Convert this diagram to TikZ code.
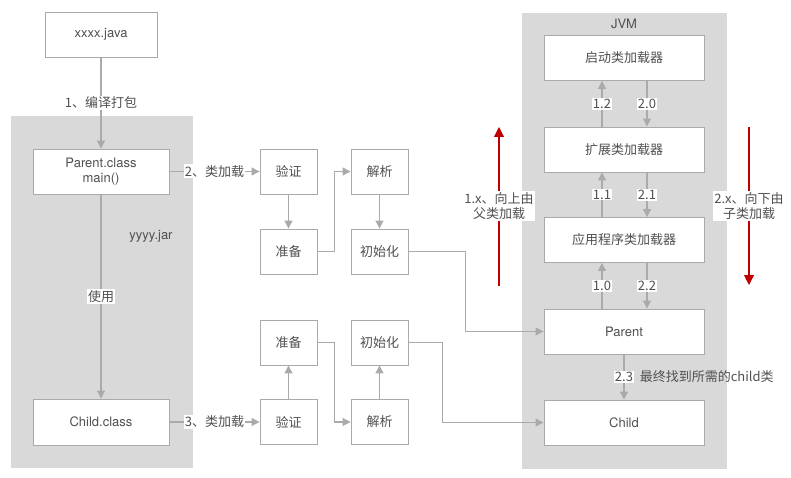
\documentclass[tikz,border=0pt]{standalone}
\usepackage{fontspec}
\setmainfont{TeX Gyre Heros}
\newfontfamily\cjk{Noto Sans CJK SC}
\usetikzlibrary{positioning,arrows.meta}

\definecolor{linegray}{RGB}{170,170,170}
\definecolor{areagray}{RGB}{217,217,217}
\definecolor{textgray}{RGB}{80,80,80}
\definecolor{loadred}{RGB}{192,0,0}

\tikzset{
  every box/.style={draw=linegray, line width=0.9pt, fill=white, text=textgray,
    inner sep=0pt, align=center},
  phase box/.style={minimum width=57, minimum height=45},
  loader box/.style={minimum width=160, minimum height=45},
  lat/.style={font=\fontsize{13}{15}\selectfont, text=textgray},
  han/.style={font=\cjk\fontsize{13}{15}\selectfont, text=textgray},
  tag/.style={fill=white, inner sep=1pt},
  flow/.style={draw=linegray, line width=1.1pt},
  red arrow/.style={draw=loadred, line width=1.1pt, -{Triangle[length=10pt,width=10pt]}}
}

\begin{document}
\begin{tikzpicture}[x=1pt, y=-1pt, >={Triangle[length=8pt,width=8pt]}]
\useasboundingbox (0,0) rectangle (791,478);

% grey areas
\fill[areagray] (11,116) rectangle (193,468);
\fill[areagray] (522,13) rectangle (727,469);
\node[lat] (jar-label) at (151,236) {yyyy.jar};
\node[lat] (jvm-label) at (624,24) {JVM};

% source side
\node[every box, lat, minimum width=112, minimum height=45] (java) at (101,34.5) {xxxx.java};
\node[every box, lat, minimum width=136, minimum height=45] (parent-class) at (101,171.5) {Parent.class\\main()};
\node[every box, lat, minimum width=136, minimum height=46] (child-class) at (101,422) {Child.class};

% linking phases, upper and lower row
\foreach \n/\t/\x/\y in {verify-1/验证/288.5/171.5, prepare-1/准备/288.5/251.5,
    resolve-1/解析/379.5/171.5, init-1/初始化/379.5/251.5,
    prepare-2/准备/288.5/342.5, init-2/初始化/379.5/342.5,
    verify-2/验证/288.5/422, resolve-2/解析/379.5/422}
  \node[every box, phase box, han] (\n) at (\x,\y) {\t};

% jvm loaders
\foreach \n/\t/\y in {boot/启动类加载器/58, ext/扩展类加载器/149.5, app/应用程序类加载器/240}
  \node[every box, loader box, han] (\n) at (624,\y) {\t};
\node[every box, loader box, lat] (jvm-parent) at (624,331.5) {Parent};
\node[every box, loader box, lat] (jvm-child) at (624,422.5) {Child};

\draw[flow, ->] (java) -- (parent-class) node[midway, tag, han] {1、编译打包};
\draw[flow, ->] (parent-class) -- (child-class) node[midway, tag, han] {使用};
\draw[flow, ->] (parent-class) -- (verify-1) node[midway, tag, han] {2、类加载};
\draw[flow, ->] (child-class) -- (verify-2) node[midway, tag, han] {3、类加载};

\draw[flow, ->] (verify-1) -- (prepare-1);
\draw[flow, ->] (prepare-1.east) -- ++(17,0) |- (resolve-1.west);
\draw[flow, ->] (resolve-1) -- (init-1);
\draw[flow, ->] (init-1.east) -- ++(57,0) |- (jvm-parent.west);

\draw[flow, ->] (verify-2) -- (prepare-2);
\draw[flow, ->] (prepare-2.east) -- ++(17,0) |- (resolve-2.west);
\draw[flow, ->] (resolve-2) -- (init-2);
\draw[flow, ->] (init-2.east) -- ++(34,0) |- (jvm-child.west);

% delegation inside the jvm
\foreach \lo/\hi/\u/\d in {ext/boot/1.2/2.0, app/ext/1.1/2.1, jvm-parent/app/1.0/2.2} {
  \draw[flow, ->] ([xshift=-22pt]\lo.north) -- ([xshift=-22pt]\hi.south)
    node[midway, tag, han] {\u};
  \draw[flow, ->] ([xshift=23pt]\hi.south) -- ([xshift=23pt]\lo.north)
    node[midway, tag, han] {\d};
}
\draw[flow, ->] (jvm-parent) -- (jvm-child) node[midway, tag, han] (found-step) {2.3};
\node[han, inner sep=1pt, right=4pt of found-step] (found-text) {最终找到所需的child类};

% direction of loading
\coordinate (up-from) at (499,286);
\coordinate (up-to) at (499,127);
\coordinate (down-from) at (749,127);
\coordinate (down-to) at (749,285);
\draw[red arrow] (up-from) -- (up-to);
\draw[red arrow] (down-from) -- (down-to);
\node[tag, han, align=center] (up-label) at (499,206) {1.x、向上由\\父类加载};
\node[tag, han, align=center] (down-label) at (749,206) {2.x、向下由\\子类加载};

\end{tikzpicture}
\end{document}
